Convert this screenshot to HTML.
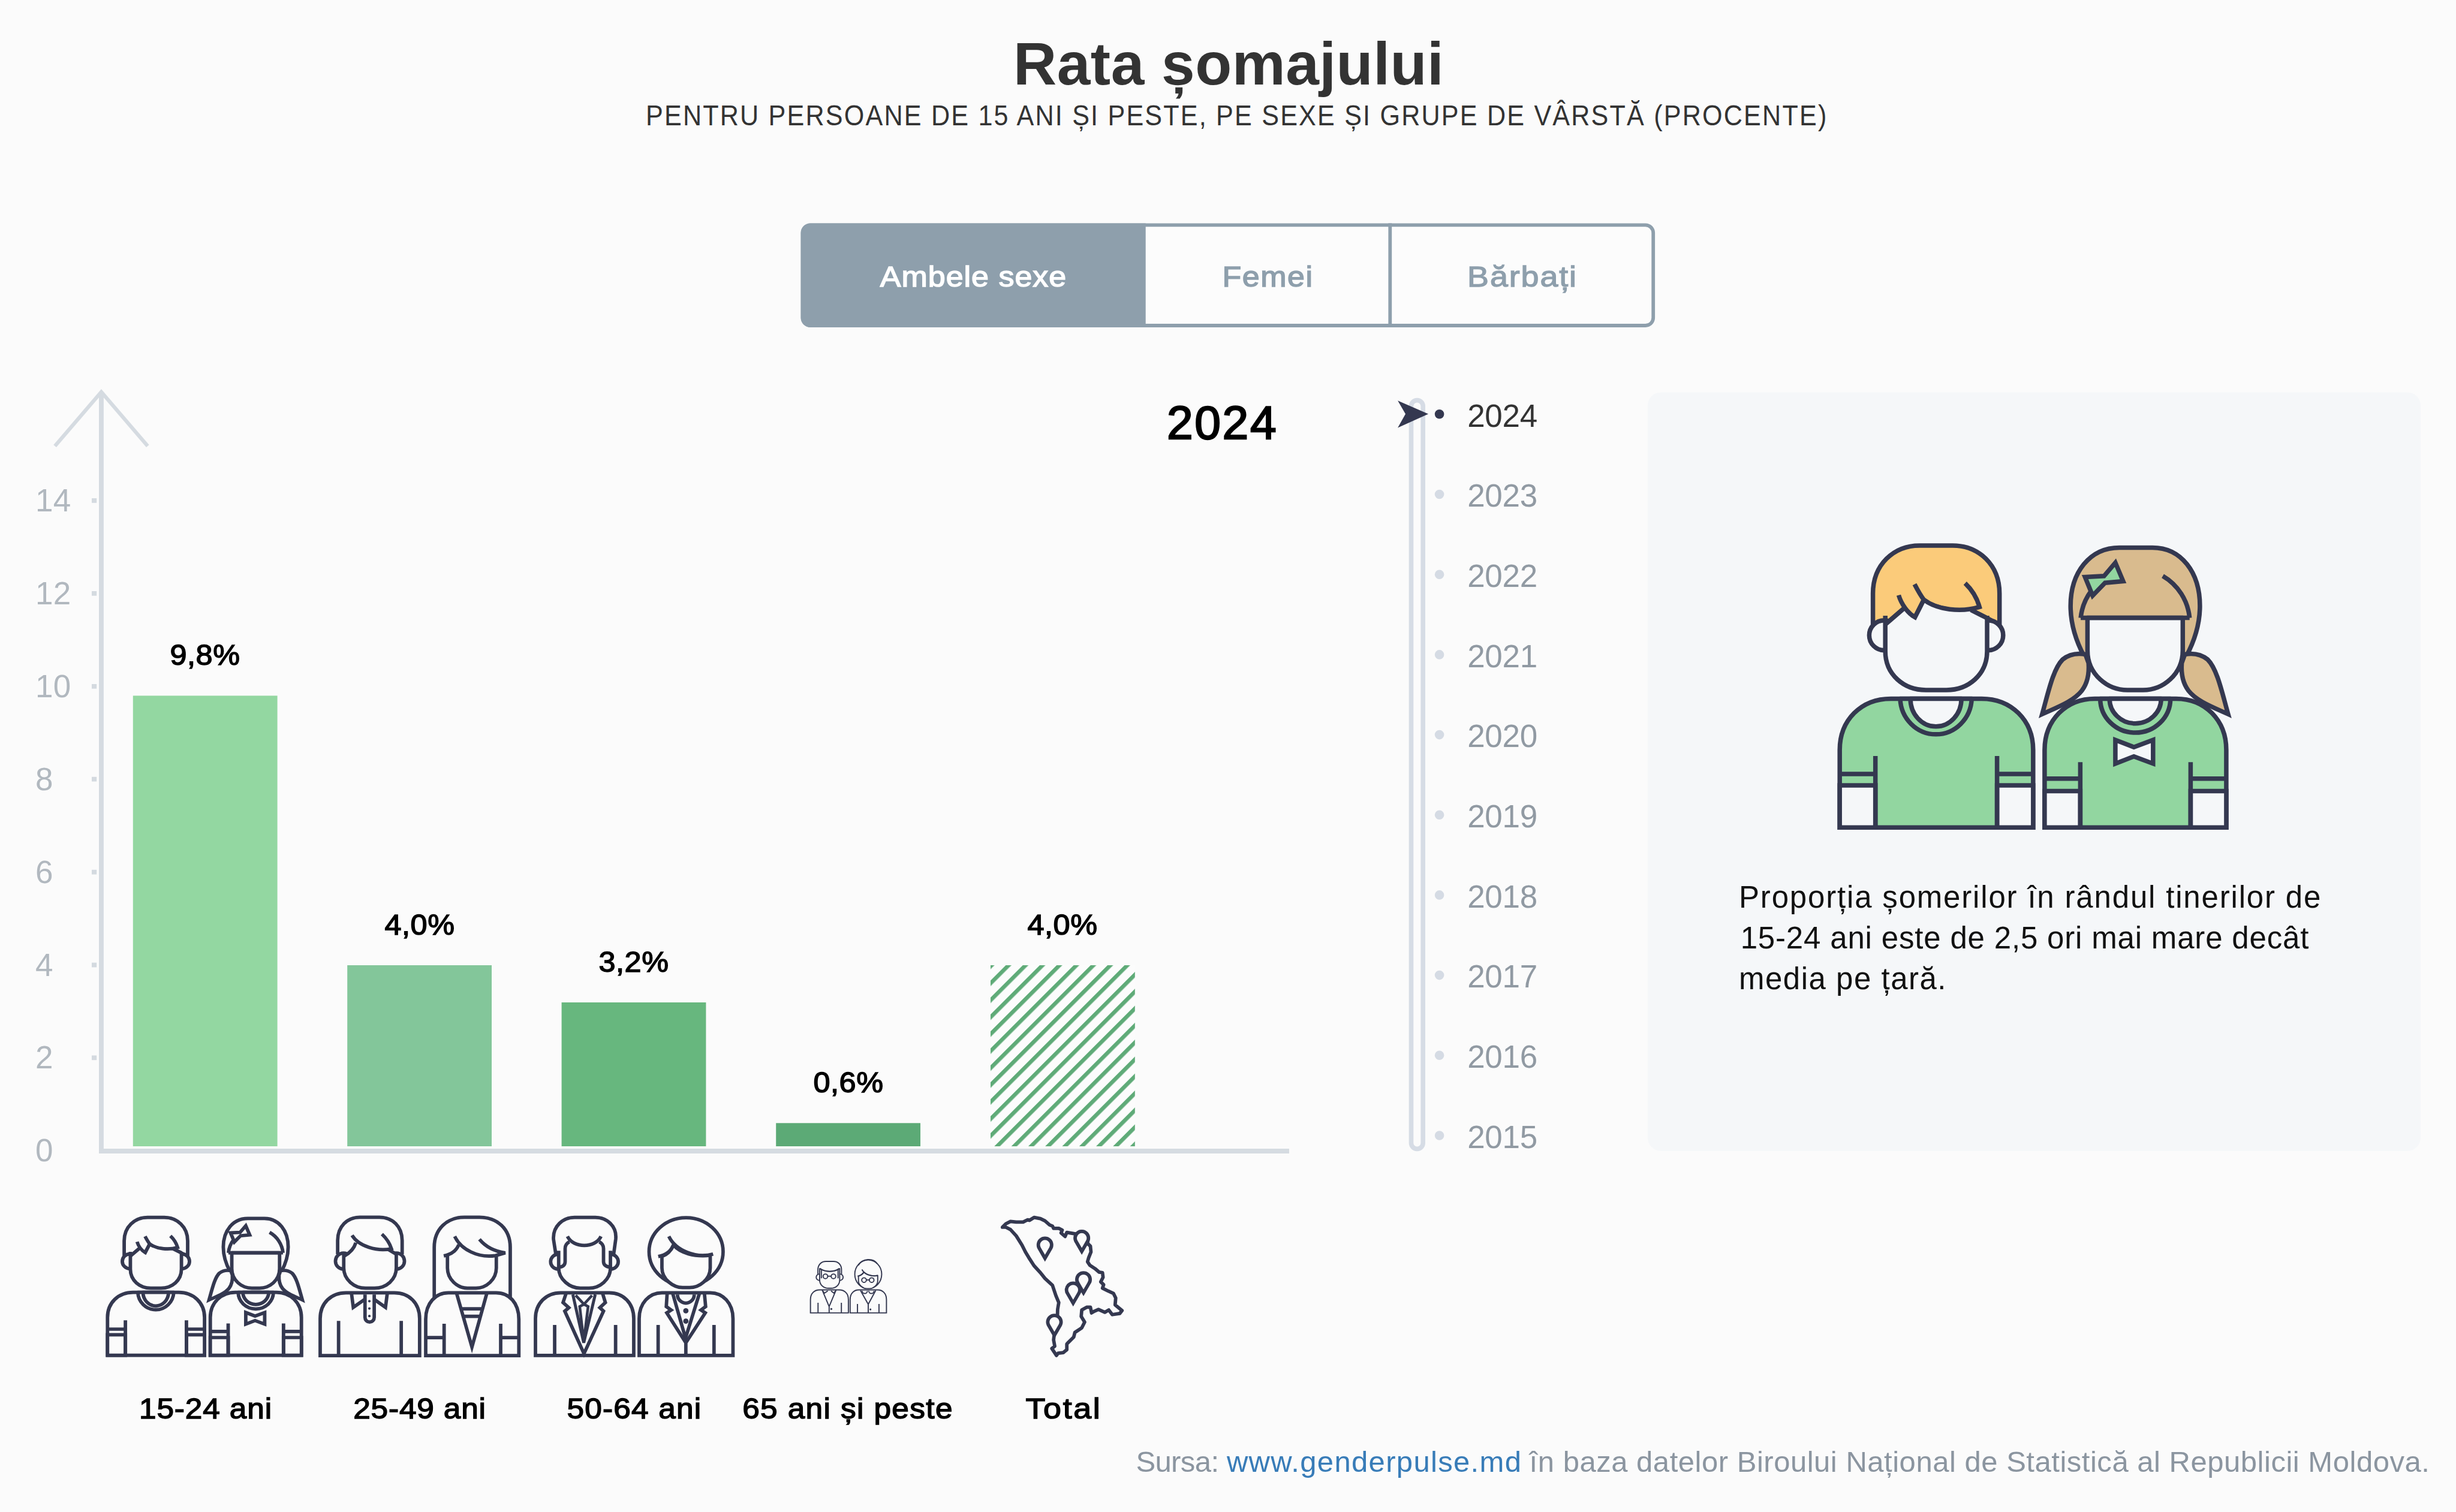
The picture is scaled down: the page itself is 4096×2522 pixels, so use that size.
<!DOCTYPE html>
<html lang="ro">
<head>
<meta charset="utf-8">
<title>Rata șomajului</title>
<style>
html,body{margin:0;padding:0;}
body{width:4096px;height:2522px;background:#FBFBFB;position:relative;overflow:hidden;font-family:"Liberation Sans",sans-serif;}
.t{position:absolute;white-space:nowrap;line-height:1;margin:0;padding:0;}
.b{font-weight:700;}
#gfx{position:absolute;left:0;top:0;}
.tick{color:#B1B8BF;font-size:53px;left:59px;letter-spacing:0.2px;}
.val{color:#000;font-size:48.9px;font-weight:400;-webkit-text-stroke:1.5px #000;letter-spacing:0.5px;text-align:center;width:400px;transform:scaleX(1.03);}
.cat{color:#000;font-size:48.9px;font-weight:400;-webkit-text-stroke:1.5px #000;letter-spacing:1.1px;text-align:center;width:500px;transform:scaleX(1.05);}
.yr{color:#919AA3;font-size:53px;left:2447.2px;letter-spacing:-0.3px;}
.btn{font-size:49px;font-weight:400;-webkit-text-stroke-width:1.5px;letter-spacing:0.95px;text-align:center;transform:scaleX(1.06);}
.ptxt{color:#111;font-size:51px;left:2900px;}
.src{color:#8B95A0;font-size:49px;}
</style>
</head>
<body>
<svg id="gfx" width="4096" height="2522" viewBox="0 0 4096 2522">
<defs>
<pattern id="hatch" patternUnits="userSpaceOnUse" width="20" height="20" patternTransform="translate(1649.2 1610) rotate(45)">
<rect x="0" y="0" width="20" height="20" fill="#FCFCFC"/>
<rect x="0" y="0" width="6.6" height="20" fill="#5FAB78"/>
</pattern>
<g id="pair1" fill="none" stroke-linejoin="round">
<g>
<path d="M28.2,500.3 V371 C28.2,321 64,285.4 113.5,285.4 H264.8 C314,285.4 350.8,321 350.8,371 V500.3 Z" style="fill:var(--shirt)" stroke-linejoin="miter"/>
<path d="M28.2,430 H87.7 V500.3 H28.2 Z M290.6,430 H350.8 V500.3 H290.6 Z" style="fill:var(--skin)" stroke-linejoin="miter"/>
<path d="M87.7,381 V500.3 M290.6,381 V500.3 M28.2,411 H87.7 M290.6,411 H350.8"/>
<path d="M129,285.4 A59.7,62 0 0 0 248.3,285.4 Z" style="fill:var(--shirt)"/>
<path d="M146.1,285.4 A42.5,46.4 0 0 0 231.1,285.4 Z" style="fill:var(--skin)"/>
<path d="M83.6,162 V110 C83.6,62 118,29.9 161.6,29.9 H216.6 C260,29.9 294.7,62 294.7,110 V162 L274,151 L247,137.5 C225,140 190,137 168.5,120.4 L153.7,149.6 C146,146 139,141 134.1,135.8 L104.2,161.6 Z" style="fill:var(--hair1)"/>
<circle cx="102.4" cy="179.7" r="25" style="fill:var(--skin)"/>
<circle cx="275.8" cy="179.7" r="25" style="fill:var(--skin)"/>
<path d="M104.2,161.6 V206 C104.2,245 135,271 172,271 H206 C243,271 274,245 274,206 V151 L247,137.5 C225,140 190,137 168.5,120.4 L153.7,149.6 C146,146 139,141 134.1,135.8 Z" style="fill:var(--skin)" stroke="none"/>
<path d="M104.2,147 V206 C104.2,245 135,271 172,271 H206 C243,271 274,245 274,206 V147"/>
<path d="M104.2,161.6 L134.1,135.8 M126.5,112.8 C131,128 142,143 153.7,149.6 L168.5,120.4 M153,94.6 C160,108 165,116 168.5,120.4 C190,137 230,142 261.3,132.4 C257,117 249,104 237.3,92.8 M274,151 L247,137.5" stroke-linejoin="miter"/>
</g>
<g transform="translate(340 0)">
<path d="M96,215 C80,185 73.2,158 73.2,130.7 C73.2,75 105,33.4 154.7,33.4 H209.8 C258,33.4 288.9,75 288.9,130.7 C288.9,158 282,185 266,215 Z" style="fill:var(--hair2)"/>
<path d="M98,211.5 C84,209 70,212 60,220 C44,236 36,275 25.8,311.2 C50,300 78,290 92,272 C101,260 104.5,244 103.2,226 Z" style="fill:var(--hair2)" stroke-linejoin="miter"/>
<path d="M263.8,211.5 C277.8,209 291.8,212 301.8,220 C317.8,236 325.8,275 336,311.2 C311.8,300 283.8,290 269.8,272 C260.8,260 257.3,244 258.6,226 Z" style="fill:var(--hair2)" stroke-linejoin="miter"/>
<path d="M29.9,500.3 V371 C29.9,321 66,285.4 113.5,285.4 H249.3 C297,285.4 332.9,321 332.9,371 V500.3 Z" style="fill:var(--shirt)" stroke-linejoin="miter"/>
<path d="M29.9,439.5 H89.4 V500.3 H29.9 Z M273.4,439.5 H332.9 V500.3 H273.4 Z" style="fill:var(--skin)" stroke-linejoin="miter"/>
<path d="M89.4,391.3 V500.3 M273.4,391.3 V500.3 M29.9,418.8 H89.4 M273.4,418.8 H332.9"/>
<path d="M122.7,285.4 A58.5,56.7 0 0 0 239.7,285.4 Z" style="fill:var(--shirt)"/>
<path d="M138.2,285.4 A43,41.3 0 0 0 224.2,285.4 Z" style="fill:var(--skin)"/>
<path d="M147.9,354.2 L178.8,366.2 L210.8,354.2 V393.7 L178.8,381.7 L147.9,393.7 Z" style="fill:var(--skin)" stroke-linejoin="miter"/>
<path d="M101.4,150.6 V205 C101.4,245 135,271 168,271 H194 C227,271 260.3,245 260.3,205 V150.6 Z" style="fill:var(--skin)"/>
<path d="M90.1,150.6 H271.7"/>
<path d="M271.7,150.6 A91.2,91.2 0 0 0 227,80.8 M90.1,150.6 A91.2,91.2 0 0 1 108,105"/>
<path d="M97.3,82.5 L129,80.8 L147.9,58.5 L160.9,89.4 L130.7,92.2 L110,113.5 Z" style="fill:var(--shirt)" stroke-linejoin="miter"/>
</g>
</g>
</defs>
<!-- buttons -->
<rect x="1338.5" y="375.3" width="1418.7" height="167.7" rx="13" fill="#FCFCFC" stroke="#8E9FAC" stroke-width="5.8"/>
<path d="M1351.6,372.4 H1910.7 V545.9 H1351.6 A16,16 0 0 1 1335.6,529.9 V388.4 A16,16 0 0 1 1351.6,372.4 Z" fill="#8E9FAC"/>
<rect x="2315.4" y="372.4" width="5.8" height="173.5" fill="#8E9FAC"/>
<!-- right panel -->
<rect x="2748" y="654.4" width="1289" height="1265.4" rx="22" fill="#F5F7F9"/>
<!-- axis -->
<path d="M168.95,655 V1919.95 H2150" fill="none" stroke="#D5DBE1" stroke-width="7.9"/>
<path d="M91.6,743.9 L168.95,653.7 L246.3,743.9" fill="none" stroke="#D5DBE1" stroke-width="6.2" stroke-linecap="butt"/>
<g fill="#D4DAE0">
<rect x="153" y="831.1" width="8.2" height="7.7"/>
<rect x="153" y="986.0" width="8.2" height="7.7"/>
<rect x="153" y="1141.0" width="8.2" height="7.7"/>
<rect x="153" y="1295.8" width="8.2" height="7.7"/>
<rect x="153" y="1450.8" width="8.2" height="7.7"/>
<rect x="153" y="1605.7" width="8.2" height="7.7"/>
<rect x="153" y="1760.5" width="8.2" height="7.7"/>
</g>
<!-- bars -->
<rect x="221.8" y="1160.4" width="240.8" height="751.6" fill="#93D7A1"/>
<rect x="579.2" y="1610" width="240.8" height="302" fill="#83C69A"/>
<rect x="936.6" y="1672" width="240.8" height="240" fill="#67B77E"/>
<rect x="1294.2" y="1873.3" width="240.8" height="38.7" fill="#5CAA76"/>
<rect x="1652" y="1610" width="240.8" height="302" fill="url(#hatch)"/>
<!-- slider -->
<rect x="2353.5" y="667.6" width="19.7" height="1248.8" rx="9.8" fill="none" stroke="#D6DCE5" stroke-width="7.6"/>
<path d="M2331.1,668.2 L2382.1,690.6 L2331.1,713.5 L2344,690.6 Z" fill="#343850"/>
<circle cx="2400.6" cy="690.8" r="7.8" fill="#343850"/>
<g fill="#D5DBE4">
<circle cx="2400.6" cy="824.5" r="7.8"/>
<circle cx="2400.6" cy="958.2" r="7.8"/>
<circle cx="2400.6" cy="1091.9" r="7.8"/>
<circle cx="2400.6" cy="1225.6" r="7.8"/>
<circle cx="2400.6" cy="1359.2" r="7.8"/>
<circle cx="2400.6" cy="1492.9" r="7.8"/>
<circle cx="2400.6" cy="1626.6" r="7.8"/>
<circle cx="2400.6" cy="1760.3" r="7.8"/>
<circle cx="2400.6" cy="1894.0" r="7.8"/>
</g>
<!-- big illustration -->
<use href="#pair1" transform="translate(3040 880)" stroke="#343850" stroke-width="7.5" style="--hair1:#FBCB7A;--hair2:#D9BB8E;--shirt:#92D6A0;--skin:#F5F7F9"/>
<!-- small icons -->
<use href="#pair1" transform="translate(165.16 2016.05) scale(0.5016 0.489)" stroke="#343850" stroke-width="11.6" style="--hair1:#FBFBFB;--hair2:#FBFBFB;--shirt:#FBFBFB;--skin:#FBFBFB"/>
<!-- pair 2: 25-49 -->
<g transform="translate(510 2000) scale(0.191755)" stroke="#343850" stroke-width="30" fill="#FBFBFB" stroke-linejoin="round">
<!-- man -->
<path d="M125,1362 V1040 C125,905 220,815 350,815 H770 C900,815 990,905 990,1040 V1362 Z" stroke-linejoin="miter"/>
<path d="M285,1060 V1362 M830,1060 V1362" fill="none"/>
<path d="M398,825 L413,942 L520,868 M708,825 L693,942 L588,868" fill="none" stroke-linejoin="miter"/>
<path d="M515,830 V1030 A40,40 0 0 0 595,1030 V830" />
<circle cx="553" cy="888" r="11" fill="#343850" stroke="none"/><circle cx="553" cy="952" r="11" fill="#343850" stroke="none"/><circle cx="553" cy="1018" r="11" fill="#343850" stroke="none"/>
<path d="M277,480 V360 C277,240 360,158 470,158 H640 C755,158 838,240 838,360 V480"/>
<circle cx="328" cy="540" r="70"/><circle cx="788" cy="540" r="70"/>
<path d="M330,490 V600 C330,700 420,775 520,775 H597 C700,775 787,700 787,600 V480 L715,437 C620,450 500,430 435,380 C420,430 390,465 330,490 Z" stroke="none"/>
<path d="M330,460 V600 C330,700 420,775 520,775 H597 C700,775 787,700 787,600 V460" fill="none"/>
<path d="M402,315 C460,410 620,460 745,432 C730,385 705,345 662,305 M435,380 C420,430 390,465 335,495 M715,437 L787,480" fill="none" stroke-linejoin="miter"/>
<!-- woman -->
<path d="M1117,880 V420 C1117,260 1230,158 1380,158 H1510 C1665,158 1778,260 1778,420 V880"/>
<path d="M1043,1362 V1045 C1043,905 1130,815 1240,815 H1655 C1770,815 1853,905 1853,1045 V1362 Z" stroke-linejoin="miter"/>
<path d="M1203,1085 V1362 M1695,1085 V1362 M1043,1205 H1203 M1695,1205 H1853" fill="none"/>
<path d="M1313,825 L1445,1288 L1573,825 M1352,955 H1537 M1370,1020 H1520" fill="none" stroke-linejoin="miter"/>
<path d="M1232,495 V600 C1232,700 1320,775 1405,775 H1480 C1570,775 1657,700 1657,600 V490" fill="none"/>
<path d="M1295,325 C1350,440 1500,515 1650,492 L1735,468 C1640,455 1560,410 1510,350 M1330,398 C1310,450 1270,480 1200,495" fill="none" stroke-linejoin="miter"/>
</g>
<!-- pair 3: 50-64 -->
<g transform="translate(870 2000) scale(0.191755)" stroke="#343850" stroke-width="30" fill="#FBFBFB" stroke-linejoin="round">
<!-- man -->
<path d="M120,1360 V1040 C120,905 215,815 340,815 H760 C885,815 975,905 975,1040 V1360 Z" stroke-linejoin="miter"/>
<path d="M287,1095 V1360 M817,1095 V1360" fill="none"/>
<path d="M385,825 L360,900 L410,945 L375,975 L542,1345 L712,975 L680,945 L728,900 L705,825" fill="none" stroke-linejoin="miter"/>
<path d="M445,830 L540,1250 L640,830" fill="none" stroke-linejoin="miter" stroke-width="26"/>
<path d="M470,838 L542,915 L612,838 M542,915 L505,935 L540,1240 L578,935 Z" fill="none" stroke-linejoin="miter" stroke-width="24"/>
<path d="M297,480 L277,350 C270,235 360,160 460,160 H640 C740,160 830,235 818,350 L800,480"/>
<circle cx="317" cy="545" r="65"/><circle cx="775" cy="545" r="65"/>
<path d="M322,450 V600 C322,700 420,775 510,775 H585 C680,775 772,700 772,600 V450 L712,400 L690,330 C620,420 470,420 398,330 L378,400 Z" stroke="none"/>
<path d="M322,450 V600 C322,700 420,775 510,775 H585 C680,775 772,700 772,600 V450" fill="none"/>
<path d="M398,325 C450,430 640,430 690,325" fill="none"/>
<path d="M415,372 C390,385 378,400 378,430 V545 C378,575 355,592 322,592 M675,372 C700,385 712,400 712,430 V545 C712,575 740,592 772,592" fill="none"/>
<!-- woman -->
<ellipse cx="1430" cy="458" rx="322" ry="296"/>
<path d="M1022,1360 V1040 C1022,905 1110,815 1220,815 H1640 C1750,815 1838,905 1838,1040 V1360 Z" stroke-linejoin="miter"/>
<path d="M1187,1095 V1360 M1673,1095 V1360" fill="none"/>
<path d="M1265,825 L1258,935 L1300,965 L1262,990 L1428,1250 L1597,990 L1560,965 L1600,935 L1590,825 M1428,1250 V1360" fill="none" stroke-linejoin="miter"/>
<path d="M1315,825 L1425,1210 L1545,825" fill="none" stroke-linejoin="miter"/>
<path d="M1355,830 A73,75 0 0 0 1501,830" fill="none"/>
<circle cx="1428" cy="972" r="23" fill="#343850" stroke="none"/><circle cx="1428" cy="1062" r="23" fill="#343850" stroke="none"/>
<path d="M1220,500 V600 C1220,700 1320,770 1400,770 H1460 C1545,770 1640,700 1640,600 V490 C1500,505 1380,470 1320,400 C1300,450 1260,485 1220,500 Z"/>
<path d="M1280,325 C1340,450 1520,520 1665,478 M1320,400 C1300,450 1260,485 1188,500" fill="none"/>
</g>
<!-- pair 4: 65+ -->
<g transform="translate(1320 2070) scale(0.095877)" stroke="#343850" stroke-width="20" fill="#FBFBFB" stroke-linejoin="round">
<path d="M330,1250 V1020 C330,910 400,850 490,850 H830 C920,850 990,910 990,1020 V1250 Z" stroke-linejoin="miter"/>
<path d="M462,1075 V1250 M868,1075 V1250" fill="none"/>
<path d="M535,855 L655,1140 L775,855 M655,1140 V1250 M548,870 L570,908 L632,868 M762,870 L740,908 L688,868" fill="none" stroke-linejoin="miter"/>
<circle cx="693" cy="1182" r="17" fill="#343850" stroke="none"/>
<path d="M460,650 V500 C460,410 520,355 600,355 H730 C810,355 870,410 870,500 V650"/>
<circle cx="485" cy="630" r="55"/><circle cx="843" cy="630" r="55"/>
<path d="M490,480 V680 C490,770 570,822 640,822 H690 C760,822 838,770 838,680 V480 C740,545 590,545 490,480 Z"/>
<path d="M495,478 C590,545 740,545 830,478 M520,500 V650 M810,500 V650" fill="none"/>
<circle cx="590" cy="615" r="40" fill="none"/><circle cx="730" cy="615" r="40" fill="none"/><path d="M630,612 H690" fill="none"/>
<!-- woman -->
<ellipse cx="1335" cy="578" rx="234" ry="248"/>
<path d="M1160,425 C1230,300 1420,290 1492,395" fill="none"/>
<path d="M1020,1250 V1020 C1020,910 1090,850 1170,850 H1500 C1582,850 1652,910 1652,1020 V1250 Z" stroke-linejoin="miter"/>
<path d="M1148,1095 V1250 M1522,1095 V1250" fill="none"/>
<path d="M1200,860 L1335,1100 L1465,860 M1335,1100 V1250" fill="none" stroke-linejoin="miter"/>
<path d="M1230,868 A45,45 0 0 0 1320,868 M1345,868 A45,45 0 0 0 1435,868" fill="none"/>
<circle cx="1373" cy="1190" r="17" fill="#343850" stroke="none"/>
<path d="M1165,610 V690 C1165,770 1250,828 1310,828 H1360 C1420,828 1500,770 1500,690 V600 C1400,620 1300,590 1260,540 C1240,575 1210,598 1165,610 Z"/>
<path d="M1225,495 C1270,580 1400,625 1500,600 M1260,540 C1240,575 1210,598 1150,612" fill="none"/>
<circle cx="1262" cy="680" r="40" fill="none"/><circle cx="1395" cy="680" r="40" fill="none"/><path d="M1302,677 H1355" fill="none"/>
</g>
<!-- map -->
<g transform="translate(1620 2000) scale(0.191817)" stroke="#343850" stroke-width="30" fill="#FBFBFB" stroke-linejoin="round">
<path d="M270,245 L300,215 L340,195 L390,200 L450,200 L490,180 L505,185 L545,160 L600,170 L640,190 L680,225 L705,235 L715,255 L760,255 L790,270 L780,295 L815,325 L830,290 L890,300 L920,305 L940,285 L975,285 L1000,310 L1015,345 L1010,385 L1035,410 L1040,460 L1020,510 L1010,545 L1030,575 L1075,605 L1110,635 L1140,640 L1145,680 L1125,720 L1150,745 L1140,775 L1190,800 L1235,820 L1255,860 L1250,920 L1310,970 L1290,995 L1225,1005 L1195,965 L1160,985 L1105,960 L1070,975 L1045,990 L1035,940 L1005,940 L960,965 L955,1020 L985,1070 L960,1120 L900,1160 L890,1200 L830,1260 L830,1310 L800,1335 L755,1340 L740,1360 L700,1300 L725,1280 L715,1225 L720,1180 L745,1140 L750,960 L760,900 L735,840 L705,750 L640,690 L600,640 L545,580 L500,510 L470,460 L440,400 L390,320 L340,265 L300,245 Z"/>
<path id="pin" d="M640,515 L592,432 A58,58 0 1 1 688,432 Z" stroke-linejoin="miter"/>
<use href="#pin" transform="translate(320 -60)"/>
<use href="#pin" transform="translate(335 300)"/>
<use href="#pin" transform="translate(245 390)"/>
<use href="#pin" transform="translate(82 670)"/>
</g>
</svg>

<div class="t b" id="title" style="left:1690px;top:56px;font-size:100px;color:#333;letter-spacing:0.5px;">Rata șomajului</div>
<div class="t" id="sub" style="left:1077px;top:168.2px;font-size:49px;color:#333;letter-spacing:2.49px;transform:scaleX(0.88);transform-origin:0 0;">PENTRU PERSOANE DE 15 ANI ȘI PESTE, PE SEXE ȘI GRUPE DE VÂRSTĂ (PROCENTE)</div>

<div class="t btn" style="left:1336px;width:575px;top:436.9px;color:#fff;-webkit-text-stroke-color:#fff;">Ambele sexe</div>
<div class="t btn" style="left:1909.9px;width:409px;top:436.9px;color:#8E9FAC;-webkit-text-stroke-color:#8E9FAC;letter-spacing:1.45px;">Femei</div>
<div class="t btn" style="left:2319.4px;width:440px;top:436.9px;color:#8E9FAC;-webkit-text-stroke-color:#8E9FAC;letter-spacing:1.7px;transform:scaleX(1.1);-webkit-text-stroke-width:1.3px;">Bărbați</div>

<div class="t tick" style="top:808px;">14</div>
<div class="t tick" style="top:962.9px;">12</div>
<div class="t tick" style="top:1117.8px;">10</div>
<div class="t tick" style="top:1272.7px;">8</div>
<div class="t tick" style="top:1427.6px;">6</div>
<div class="t tick" style="top:1582.5px;">4</div>
<div class="t tick" style="top:1737.4px;">2</div>
<div class="t tick" style="top:1892.3px;">0</div>

<div class="t val" style="left:142px;top:1067.8px;">9,8%</div>
<div class="t val" style="left:499.6px;top:1517.8px;">4,0%</div>
<div class="t val" style="left:857px;top:1579.8px;">3,2%</div>
<div class="t val" style="left:1214.6px;top:1780.8px;">0,6%</div>
<div class="t val" style="left:1572.4px;top:1517.8px;">4,0%</div>

<div class="t" id="bigyear" style="left:1945.9px;top:666.4px;font-size:78.5px;color:#000;-webkit-text-stroke:2.4px #000;letter-spacing:2.7px;">2024</div>

<div class="t yr" style="top:666.6px;color:#333;">2024</div>
<div class="t yr" style="top:800.3px;">2023</div>
<div class="t yr" style="top:934.0px;">2022</div>
<div class="t yr" style="top:1067.7px;">2021</div>
<div class="t yr" style="top:1201.4px;">2020</div>
<div class="t yr" style="top:1335.1px;">2019</div>
<div class="t yr" style="top:1468.7px;">2018</div>
<div class="t yr" style="top:1602.4px;">2017</div>
<div class="t yr" style="top:1736.1px;">2016</div>
<div class="t yr" style="top:1869.8px;">2015</div>

<div class="t ptxt" style="top:1470.7px;letter-spacing:1.82px;">Proporția șomerilor în rândul tinerilor de</div>
<div class="t ptxt" style="left:2902.7px;top:1538.7px;letter-spacing:0.82px;">15-24 ani este de 2,5 ori mai mare decât</div>
<div class="t ptxt" style="top:1606.7px;letter-spacing:1.5px;">media pe țară.</div>

<div class="t cat" style="left:92.6px;top:2324.8px;letter-spacing:0.85px;">15-24 ani</div>
<div class="t cat" style="left:449.9px;top:2324.8px;letter-spacing:0.8px;">25-49 ani</div>
<div class="t cat" style="left:808.3px;top:2324.8px;letter-spacing:1.15px;">50-64 ani</div>
<div class="t cat" style="left:1164.4px;top:2324.8px;letter-spacing:1.31px;">65 ani și peste</div>
<div class="t cat" style="left:1524.2px;top:2324.8px;letter-spacing:2.4px;transform:scaleX(1.1);">Total</div>

<div class="t src" style="left:1894.4px;top:2414.3px;letter-spacing:-0.6px;">Sursa:</div>
<div class="t src" style="left:2045.9px;top:2414.3px;letter-spacing:1.33px;color:#387CB8;">www.genderpulse.md</div>
<div class="t src" style="left:2550.6px;top:2414.3px;letter-spacing:0.52px;">în baza datelor Biroului Național de Statistică al Republicii Moldova.</div>
</body>
</html>
